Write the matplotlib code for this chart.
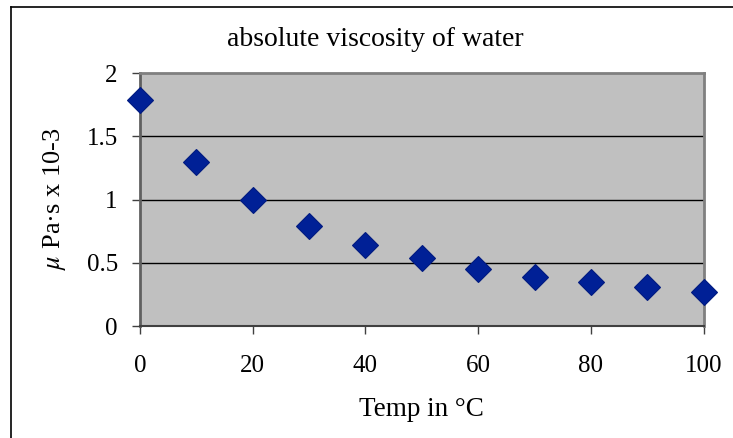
import matplotlib.pyplot as plt
from matplotlib.lines import Line2D

# viscosity of water vs temperature
temp = [0, 10, 20, 30, 40, 50, 60, 70, 80, 90, 100]
visc = [1.79, 1.30, 1.00, 0.79, 0.64, 0.54, 0.45, 0.39, 0.35, 0.31, 0.27]
xticks = [0, 20, 40, 60, 80, 100]
yticks = [0, 0.5, 1, 1.5, 2]
ylabels = ['0', '0.5', '1', '1.5', '2']

plt.rcParams['font.family'] = ['Liberation Serif', 'DejaVu Serif']
plt.rcParams['mathtext.fontset'] = 'stix'

fig = plt.figure(figsize=(7.33, 4.38), dpi=100)
ax = fig.add_axes([0.191, 0.2557, 0.769, 0.5776])
ax.set_facecolor('#c0c0c0')

# chart frame (top and left edges visible)
fig.add_artist(Line2D([11/733, 11/733], [0, 1 - 7/438], color='black', lw=1.2, transform=fig.transFigure))
fig.add_artist(Line2D([11/733, 1], [1 - 7/438, 1 - 7/438], color='black', lw=1.2, transform=fig.transFigure))

for y in yticks[1:-1]:
    ax.axhline(y, color='black', lw=1, zorder=1)

ax.plot(temp, visc, linestyle='none', marker='D', markersize=13,
        color='#002096', markeredgecolor='#001a80', markeredgewidth=0.8,
        zorder=3, clip_on=False)

ax.set_xlim(0, 100)
ax.set_ylim(0, 2)
ax.set_xticks(xticks)
ax.set_yticks(yticks)
ax.set_yticklabels(ylabels)
ax.tick_params(direction='out', length=6, width=1, color='#404040',
               labelsize=18, pad=10)
ax.tick_params(axis='x', pad=15)

for s in ['top', 'right']:
    ax.spines[s].set_color('#808080')
    ax.spines[s].set_linewidth(2)
ax.spines['left'].set_color('#606060')
ax.spines['left'].set_linewidth(2)
ax.spines['bottom'].set_color('#404040')
ax.spines['bottom'].set_linewidth(1.5)

fig.text(375/733, 1 - 40/438, 'absolute viscosity of water', fontsize=20,
         ha='center', va='center')
fig.text(421/733, 1 - 410/438, 'Temp in °C', fontsize=19.5,
         ha='center', va='center')
fig.text(55/733, 1 - 199/438, r'$\mathit{\mu}$ Pa·s x 10-3', fontsize=19,
         ha='center', va='center', rotation=90)

fig.savefig('out.png', dpi=100)
